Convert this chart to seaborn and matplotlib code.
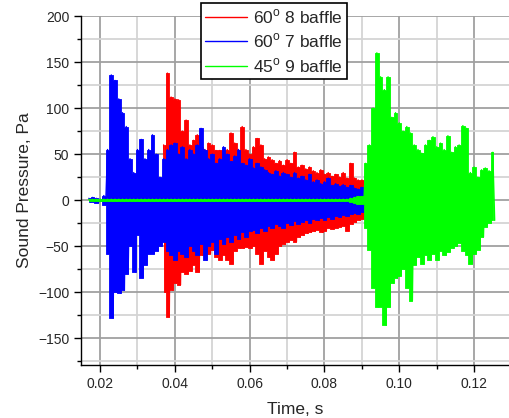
#!/usr/bin/env python
"""plot.py

Sound pressure traces for three baffle configurations.

"""

import numpy as np
import pandas as pd
import matplotlib
matplotlib.use("Agg")
import matplotlib.pyplot as plt
from matplotlib.ticker import MultipleLocator, FormatStrFormatter
import seaborn as sns

STEP = 0.001  # s between envelope readings

# 60 deg 8 baffle (red): upper / lower envelope from t = 0.037 s
RED_START = 0.037
RED_UP = [60, 138, 112, 110, 109, 75, 87, 60, 65, 71, 58, 55, 62, 60, 54,
          54, 48, 55, 73, 62, 55, 80, 55, 50, 58, 67, 60, 45, 47, 44, 40,
          43, 38, 44, 40, 52, 36, 38, 34, 36, 32, 30, 33, 28, 30, 26, 28,
          25, 30, 24, 40, 24, 22, 22, 15, 5]
RED_LO = [-100, -127, -98, -90, -92, -78, -80, -77, -70, -78, -60, -53, -58,
          -54, -62, -65, -60, -65, -69, -55, -52, -52, -51, -52, -50, -58,
          -69, -55, -62, -65, -58, -50, -48, -45, -43, -45, -40, -38, -36,
          -35, -34, -32, -35, -33, -30, -31, -30, -29, -28, -33, -26, -24,
          -22, -20, -18, -5]

# 60 deg 7 baffle (blue): from t = 0.017 s
BLUE_START = 0.017
BLUE_UP = [2, 3, 2, 1, 5, 55, 136, 130, 110, 95, 80, 45, 30, 55, 66, 45, 55,
           71, 50, 25, 45, 55, 60, 62, 50, 58, 45, 55, 50, 60, 78, 55, 45, 50,
           40, 45, 58, 50, 42, 48, 55, 40, 38, 45, 35, 40, 36, 33, 30, 28, 32,
           26, 30, 28, 25, 30, 24, 26, 22, 28, 20, 22, 18, 20, 24, 16, 18, 15,
           17, 14, 16, 13, 12, 14, 10, 8, 8, 7, 8, 9, 8, 7, 8, 9, 8, 7, 8, 9,
           8, 8, 7, 8, 9, 8, 11, 8, 7, 8, 6]
BLUE_LO = [-2, -2, -3, -1, -5, -58, -128, -100, -101, -98, -80, -50, -78, -38,
           -84, -70, -58, -58, -55, -50, -45, -55, -60, -65, -55, -58, -62,
           -50, -55, -60, -48, -65, -50, -45, -58, -42, -48, -40, -45, -38,
           -42, -35, -40, -34, -32, -36, -30, -33, -28, -30, -26, -28, -30,
           -25, -27, -23, -26, -24, -22, -25, -20, -22, -19, -21, -18, -20,
           -17, -18, -16, -17, -15, -14, -15, -13, -12, -8, -8, -7, -8, -9,
           -8, -7, -8, -9, -8, -7, -8, -9, -8, -8, -7, -8, -9, -8, -10, -8,
           -7, -8, -6]

# 45 deg 9 baffle (green): from t = 0.017 s
GREEN_START = 0.017
GREEN_UP = [1, 1, 1, 1, 1, 1, 1, 1, 1, 1, 1, 1, 1, 1, 1, 1, 1, 1, 1, 1, 1, 1,
            1, 1, 1, 1, 1, 1, 1, 1, 1, 1, 1, 1, 1, 1, 1, 1, 1, 1, 1, 1, 1, 1,
            1, 1, 1, 1, 1, 1, 1, 1, 1, 1, 1, 1, 1, 1, 1, 1, 1, 1, 1, 1, 1, 1,
            1, 1, 1, 1, 2, 3, 4, 4, 40, 60, 100, 160, 134, 120, 134, 90, 95,
            84, 75, 80, 73, 60, 55, 51, 60, 65, 69, 58, 62, 55, 70, 52, 58,
            60, 81, 78, 30, 36, 25, 33, 35, 32, 52]
GREEN_LO = [-1, -1, -1, -1, -1, -1, -1, -1, -1, -1, -1, -1, -1, -1, -1, -1,
            -1, -1, -1, -1, -1, -1, -1, -1, -1, -1, -1, -1, -1, -1, -1, -1,
            -1, -1, -1, -1, -1, -1, -1, -1, -1, -1, -1, -1, -1, -1, -1, -1,
            -1, -1, -1, -1, -1, -1, -1, -1, -1, -1, -1, -1, -1, -1, -1, -1,
            -1, -1, -1, -1, -1, -1, -2, -3, -4, -4, -30, -54, -95, -116, -116,
            -136, -116, -90, -85, -82, -75, -95, -109, -70, -62, -69, -60,
            -65, -58, -65, -55, -60, -56, -52, -50, -47, -55, -60, -69, -58,
            -54, -40, -29, -25, -22]

LABELS = ["60$^{\\rm o}$ 8 baffle", "60$^{\\rm o}$ 7 baffle",
          "45$^{\\rm o}$ 9 baffle"]
COLORS = ["#ff0000", "#0000ff", "#00ff00"]


def trace(start, upper, lower):
    """Interleave the envelopes into a zigzag trace."""
    t = start + STEP * np.arange(len(upper))
    times = np.column_stack([t, t + STEP / 2]).ravel()
    values = np.column_stack([upper, lower]).ravel()
    return t, pd.DataFrame({"t": times, "p": values})


def run():
    sns.set_style("ticks")
    plt.rcParams["font.family"] = ["Liberation Sans", "DejaVu Sans"]
    plt.rcParams["mathtext.fontset"] = "custom"
    plt.rcParams["mathtext.rm"] = "Liberation Sans"

    fig = plt.figure(figsize=(5.1, 4.18), dpi=100)
    ax = fig.add_axes([81 / 510, 53 / 418, 1 - 81 / 510, 349 / 418])

    series = [(RED_START, RED_UP, RED_LO),
              (BLUE_START, BLUE_UP, BLUE_LO),
              (GREEN_START, GREEN_UP, GREEN_LO)]
    for i, ((start, up, lo), label, color) in enumerate(
            zip(series, LABELS, COLORS)):
        t, df = trace(start, up, lo)
        z = 2 + i
        # Dense body of the waveform
        ax.fill_between(t, lo, up, step="mid", color=color, lw=0.6,
                        edgecolor=color, zorder=z)
        sns.lineplot(data=df, x="t", y="p", sort=False, estimator=None,
                     color=color, lw=1.0, label=label, ax=ax, zorder=z + 0.5)

    ax.set_xlim(0.0149, 0.1296)
    ax.set_ylim(-179, 200)
    ax.xaxis.set_major_locator(MultipleLocator(0.02))
    ax.xaxis.set_minor_locator(MultipleLocator(0.01))
    ax.xaxis.set_major_formatter(FormatStrFormatter("%.2f"))
    ax.yaxis.set_major_locator(MultipleLocator(50))
    ax.yaxis.set_minor_locator(MultipleLocator(25))

    ax.grid(which="major", color="#a0a0a0", lw=1.3)
    ax.grid(which="minor", color="#d4d4d4", lw=1.3)
    ax.set_axisbelow(True)

    for side in ["top", "right"]:
        ax.spines[side].set_visible(False)
    for side in ["left", "bottom"]:
        ax.spines[side].set_color("black")
        ax.spines[side].set_linewidth(1.0)
        ax.spines[side].set_zorder(10)
    ax.tick_params(which="major", direction="out", length=5, width=1,
                   labelsize=10, color="black")
    ax.tick_params(which="minor", direction="out", length=3, width=1,
                   color="black")

    ax.set_xlabel("Time, s", fontsize=12.5, labelpad=8)
    ax.set_ylabel("Sound Pressure, Pa", fontsize=12.5, labelpad=4)

    leg = ax.legend(loc="upper left",
                    bbox_to_anchor=(201 / 510, 1 - 3 / 418),
                    bbox_transform=fig.transFigure,
                    fontsize=12.5, frameon=True, fancybox=False,
                    borderaxespad=0, handlelength=2.4, handletextpad=0.35,
                    labelspacing=0.33, borderpad=0.25)
    leg.get_frame().set_edgecolor("black")
    leg.get_frame().set_linewidth(1.2)
    leg.get_frame().set_alpha(1)
    leg.set_zorder(20)

    fig.savefig("out.png", dpi=100)


if __name__ == "__main__":
    run()
